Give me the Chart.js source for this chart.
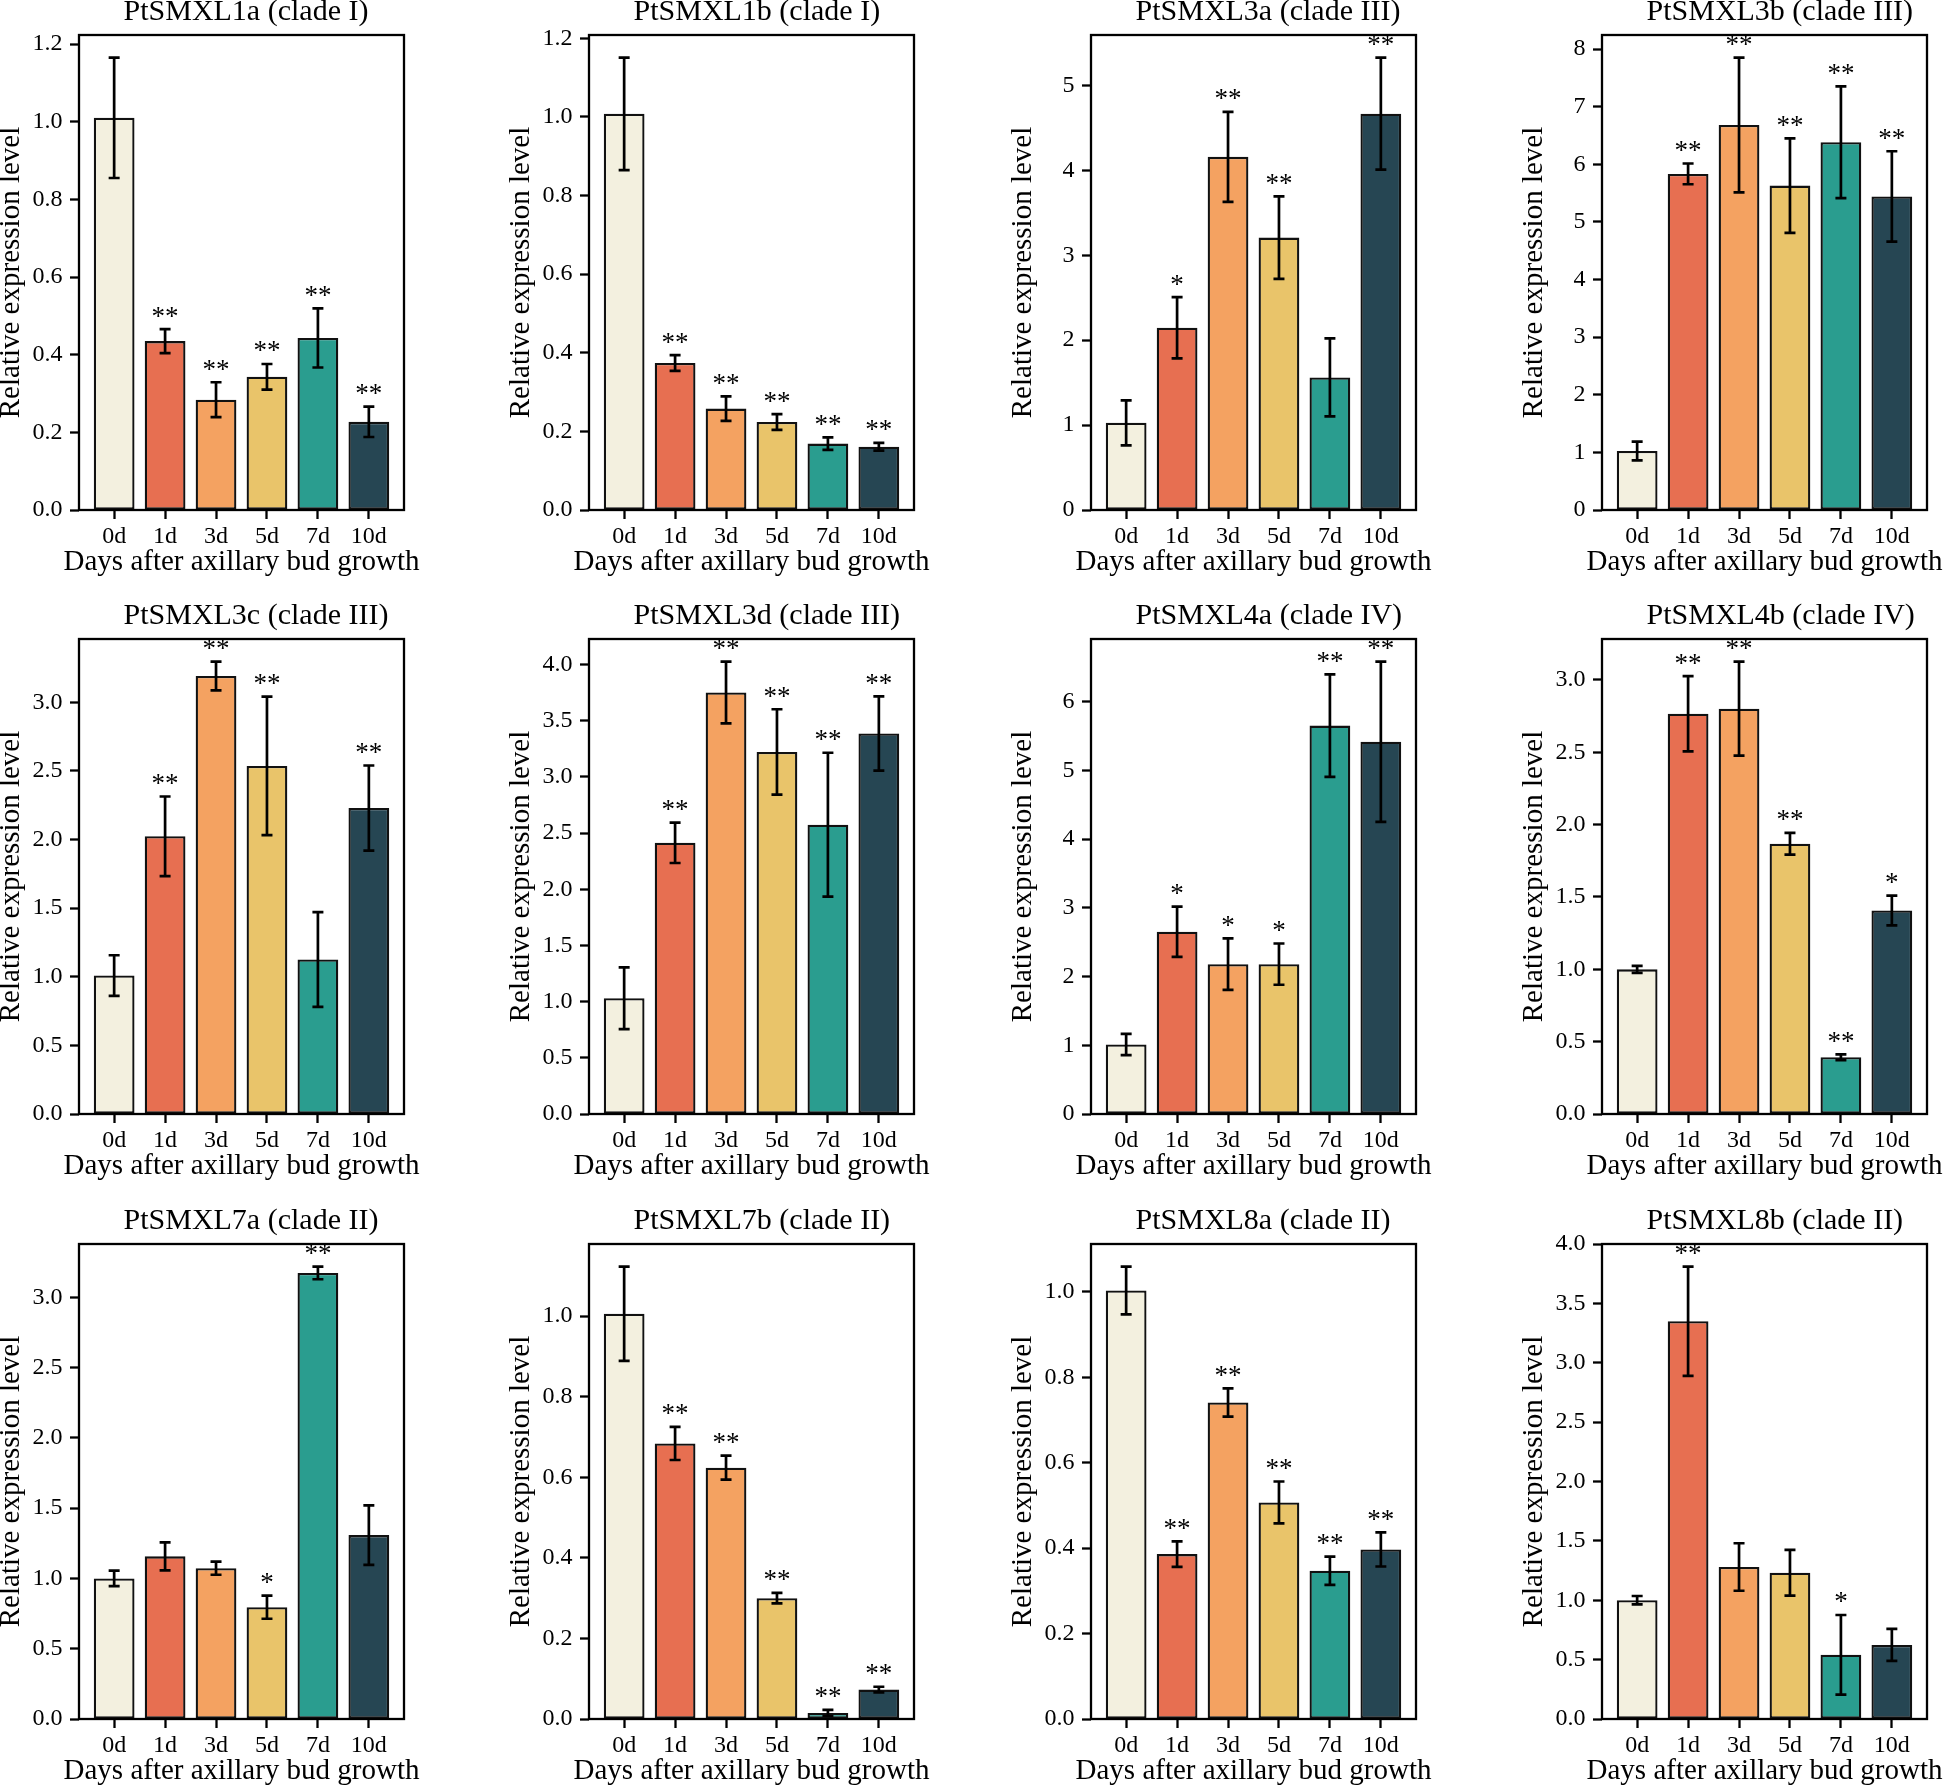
<!DOCTYPE html>
<html>
<head>
<meta charset="utf-8">
<script src="https://cdn.jsdelivr.net/npm/chart.js@4.4.1/dist/chart.umd.min.js"></script>
<style>
html, body { margin:0; padding:0; background:#fff; overflow:hidden; width:1945px; height:1786px; }
#sheet { position:absolute; left:0; top:0; width:1945px; height:1786px; }
#sheet canvas { position:absolute; }
</style>
</head>
<body>
<div id="sheet"></div>
<script>
// categories and bar colours
const days = ["0d", "1d", "3d", "5d", "7d", "10d"];
const colours = ["#F3F0DF", "#E76F51", "#F4A261", "#E9C46A", "#2A9D8F", "#264653"];

// mean relative expression, error (+/-) and significance
const smxl1a = [1.01, 0.435, 0.284, 0.343, 0.443, 0.227];
const smxl1a_err = [0.155, 0.031, 0.045, 0.033, 0.076, 0.039];
const smxl1a_sig = ["", "**", "**", "**", "**", "**"];

const smxl1b = [1.008, 0.374, 0.258, 0.224, 0.169, 0.161];
const smxl1b_err = [0.143, 0.02, 0.031, 0.02, 0.016, 0.01];
const smxl1b_sig = ["", "**", "**", "**", "**", "**"];

const smxl3a = [1.027, 2.146, 4.159, 3.208, 1.562, 4.668];
const smxl3a_err = [0.265, 0.36, 0.53, 0.485, 0.46, 0.66];
const smxl3a_sig = ["", "*", "**", "**", "", "**"];

const smxl3b = [1.024, 5.834, 6.682, 5.631, 6.382, 5.442];
const smxl3b_err = [0.163, 0.18, 1.17, 0.82, 0.97, 0.785];
const smxl3b_sig = ["", "**", "**", "**", "**", "**"];

const smxl3c = [1.009, 2.024, 3.192, 2.537, 1.126, 2.23];
const smxl3c_err = [0.148, 0.29, 0.105, 0.505, 0.345, 0.31];
const smxl3c_sig = ["", "**", "**", "**", "", "**"];

const smxl3d = [1.03, 2.414, 3.751, 3.222, 2.575, 3.386];
const smxl3d_err = [0.275, 0.18, 0.275, 0.38, 0.64, 0.33];
const smxl3d_sig = ["", "**", "**", "**", "**", "**"];

const smxl4a = [1.012, 2.652, 2.18, 2.18, 5.65, 5.416];
const smxl4a_err = [0.155, 0.365, 0.375, 0.30, 0.745, 1.165];
const smxl4a_sig = ["", "*", "*", "*", "**", "**"];

const smxl4b = [1.0, 2.767, 2.802, 1.868, 0.392, 1.407];
const smxl4b_err = [0.024, 0.26, 0.325, 0.075, 0.02, 0.103];
const smxl4b_sig = ["", "**", "**", "**", "**", "*"];

const smxl7a = [1.0, 1.157, 1.073, 0.795, 3.173, 1.308];
const smxl7a_err = [0.055, 0.1, 0.047, 0.082, 0.045, 0.212];
const smxl7a_sig = ["", "", "", "*", "**", ""];

const smxl7b = [1.006, 0.684, 0.624, 0.30, 0.015, 0.073];
const smxl7b_err = [0.117, 0.041, 0.03, 0.013, 0.0075, 0.007];
const smxl7b_sig = ["", "**", "**", "**", "**", "**"];

const smxl8a = [1.003, 0.386, 0.741, 0.507, 0.347, 0.397];
const smxl8a_err = [0.056, 0.03, 0.033, 0.049, 0.033, 0.04];
const smxl8a_sig = ["", "**", "**", "**", "**", "**"];

const smxl8b = [1.001, 3.35, 1.28, 1.232, 0.541, 0.624];
const smxl8b_err = [0.035, 0.46, 0.2, 0.193, 0.335, 0.135];
const smxl8b_sig = ["", "**", "", "", "*", ""];

// y tick step for each panel
const ySteps = [0.2, 0.2, 1, 1, 0.5, 0.5, 1, 0.5, 0.5, 0.2, 0.2, 0.5];

const panels = [
  ["PtSMXL1a (clade I)", smxl1a, smxl1a_err, smxl1a_sig],
  ["PtSMXL1b (clade I)", smxl1b, smxl1b_err, smxl1b_sig],
  ["PtSMXL3a (clade III)", smxl3a, smxl3a_err, smxl3a_sig],
  ["PtSMXL3b (clade III)", smxl3b, smxl3b_err, smxl3b_sig],
  ["PtSMXL3c (clade III)", smxl3c, smxl3c_err, smxl3c_sig],
  ["PtSMXL3d (clade III)", smxl3d, smxl3d_err, smxl3d_sig],
  ["PtSMXL4a (clade IV)", smxl4a, smxl4a_err, smxl4a_sig],
  ["PtSMXL4b (clade IV)", smxl4b, smxl4b_err, smxl4b_sig],
  ["PtSMXL7a (clade II)", smxl7a, smxl7a_err, smxl7a_sig],
  ["PtSMXL7b (clade II)", smxl7b, smxl7b_err, smxl7b_sig],
  ["PtSMXL8a (clade II)", smxl8a, smxl8a_err, smxl8a_sig],
  ["PtSMXL8b (clade II)", smxl8b, smxl8b_err, smxl8b_sig]
];

// layout: frame position of every panel on the page
const colLeft = [79, 589, 1091, 1602];
const rowTop = [35, 639, 1244];
const FW = 325, FH = 475;
const YW = 90, TOP = 50, XH = 62, BOT = 12, RP = 30;
const CW = YW + FW + RP;
const FONT = '"Liberation Serif", "Times New Roman", serif';
const INK = "#000";

Chart.defaults.font.family = FONT;
Chart.defaults.color = INK;

function decor(title, mean, err, sig) {
  return {
    id: "decor",
    afterDatasetsDraw(chart) {
      const ctx = chart.ctx, a = chart.chartArea, y = chart.scales.y;
      const bars = chart.getDatasetMeta(0).data;
      ctx.save();
      ctx.strokeStyle = INK;
      ctx.fillStyle = INK;
      ctx.lineWidth = 2.7;
      mean.forEach(function (m, i) {
        const bx = bars[i].x;
        const top = y.getPixelForValue(m + err[i]);
        const bot = y.getPixelForValue(m - err[i]);
        ctx.beginPath();
        ctx.moveTo(bx, top); ctx.lineTo(bx, bot);
        ctx.moveTo(bx - 5.5, top); ctx.lineTo(bx + 5.5, top);
        ctx.moveTo(bx - 5.5, bot); ctx.lineTo(bx + 5.5, bot);
        ctx.stroke();
        if (sig[i]) {
          ctx.font = "27px " + FONT;
          ctx.textAlign = "center";
          ctx.textBaseline = "alphabetic";
          ctx.fillText(sig[i], bx, top - 4.5);
        }
      });
      // frame
      ctx.lineWidth = 2.3;
      ctx.strokeRect(a.left, a.top, a.right - a.left, a.bottom - a.top);
      // panel title
      ctx.font = "30px " + FONT;
      ctx.textAlign = "left";
      ctx.textBaseline = "alphabetic";
      ctx.fillText(title, a.left + 44.5, a.top - 15);
      // x axis title
      ctx.font = "29px " + FONT;
      ctx.textAlign = "center";
      ctx.textBaseline = "middle";
      ctx.fillText("Days after axillary bud growth", (a.left + a.right) / 2, a.bottom + 52);
      ctx.restore();
    }
  };
}

const sheet = document.getElementById("sheet");

panels.forEach(function (p, k) {
  const title = p[0], mean = p[1], err = p[2], sig = p[3];
  const row = Math.floor(k / 4), col = k % 4;
  const step = ySteps[k];
  const dec = step < 1 ? 1 : 0;
  const ymax = 1.05 * Math.max.apply(null, mean.map(function (m, i) { return m + err[i]; }));

  const cv = document.createElement("canvas");
  const h = TOP + FH + XH + BOT;
  cv.width = CW;
  cv.height = h;
  cv.style.left = (colLeft[col] - YW) + "px";
  cv.style.top = (rowTop[row] - TOP) + "px";
  cv.style.width = CW + "px";
  cv.style.height = h + "px";
  sheet.appendChild(cv);

  const gridOpts = { display: true, drawOnChartArea: false, drawTicks: true, tickLength: 9, tickWidth: 2.3, tickColor: INK, offset: false };

  new Chart(cv, {
    type: "bar",
    data: {
      datasets: [{
        data: mean.map(function (m, i) { return { x: i, y: m }; }),
        backgroundColor: colours,
        borderColor: "#111",
        borderWidth: 2.3,
        borderSkipped: false,
        categoryPercentage: 1,
        barPercentage: 0.8
      }]
    },
    options: {
      responsive: false,
      animation: false,
      layout: { autoPadding: false, padding: { top: TOP, right: RP, bottom: BOT, left: 0 } },
      plugins: { legend: { display: false }, tooltip: { enabled: false } },
      scales: {
        x: {
          type: "linear",
          offset: false,
          min: -0.69,
          max: 5.69,
          afterBuildTicks: function (s) { s.ticks = days.map(function (d, i) { return { value: i }; }); },
          afterFit: function (s) { s.height = XH; },
          ticks: { autoSkip: false, maxRotation: 0, padding: 3, font: { size: 24 }, color: INK,
                   callback: function (v) { return days[v]; } },
          grid: gridOpts,
          border: { display: false }
        },
        y: {
          min: 0,
          max: ymax,
          afterBuildTicks: function (s) {
            const t = [];
            for (let v = 0; v <= ymax + 1e-9; v += step) t.push({ value: +v.toFixed(4) });
            s.ticks = t;
          },
          afterFit: function (s) { s.width = YW; },
          ticks: { autoSkip: false, padding: 7.5, font: { size: 24 }, color: INK,
                   callback: function (v) { return v.toFixed(dec); } },
          grid: gridOpts,
          border: { display: false },
          title: { display: true, text: "Relative expression level", color: INK,
                   padding: { top: 5, bottom: 0 }, font: { size: 29, lineHeight: 1.2 } }
        }
      }
    },
    plugins: [decor(title, mean, err, sig)]
  });
});
</script>
</body>
</html>
